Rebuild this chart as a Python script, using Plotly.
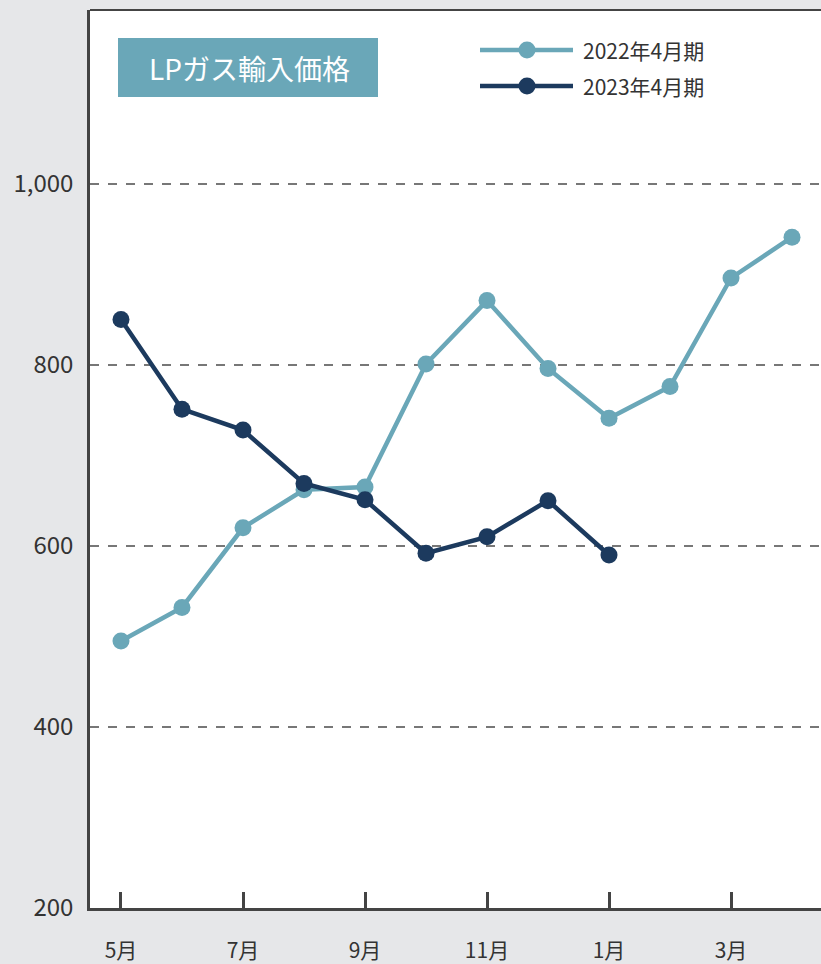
import plotly.graph_objects as go

months = ["5月", "6月", "7月", "8月", "9月", "10月", "11月", "12月", "1月", "2月", "3月", "4月"]
fy2022 = [495, 532, 620, 662, 665, 801, 871, 796, 741, 776, 896, 941]
fy2023 = [850, 751, 728, 669, 651, 592, 610, 650, 590]
series_names = ["2022年4月期", "2023年4月期"]
tick_labels = ["5月", "7月", "9月", "11月", "1月", "3月"]
y_ticks = [200, 400, 600, 800, 1000]

LIGHT = "#6aa7b8"
DARK = "#1c3a5e"
FONT = "Noto Sans CJK JP"

# plot-area geometry in pixels (for paper-coordinate helpers)
L, R, T, B = 90, 821, 10, 908
PW, PH = R - L, B - T


def px(x):
    return (x - L) / PW


def py(y):
    return (B - y) / PH


x_idx = list(range(len(months)))

fig = go.Figure()
fig.add_trace(go.Scatter(x=x_idx, y=fy2022, mode="lines+markers", name=series_names[0],
                         line=dict(color=LIGHT, width=4.5), marker=dict(size=17, color=LIGHT),
                         showlegend=False))
fig.add_trace(go.Scatter(x=x_idx[:len(fy2023)], y=fy2023, mode="lines+markers", name=series_names[1],
                         line=dict(color=DARK, width=4.5), marker=dict(size=17, color=DARK),
                         showlegend=False))

shapes = [
    dict(type="line", xref="paper", yref="paper", x0=0, x1=1, y0=1, y1=1,
         line=dict(color="#444444", width=2)),
    dict(type="rect", xref="paper", yref="paper",
         x0=px(118), x1=px(378), y0=py(97), y1=py(38),
         fillcolor=LIGHT, line=dict(width=0), layer="above"),
]
annotations = [
    dict(text="LPガス輸入価格", xref="paper", yref="paper",
         x=px(249), y=py(68), xanchor="center", yanchor="middle", showarrow=False,
         font=dict(size=28, color="#ffffff", family=FONT)),
]

# manual legend
for name, color, ly in [(series_names[0], LIGHT, 50), (series_names[1], DARK, 86)]:
    shapes.append(dict(type="line", xref="paper", yref="paper",
                       x0=px(480), x1=px(573), y0=py(ly), y1=py(ly),
                       line=dict(color=color, width=4.5), layer="above"))
    shapes.append(dict(type="circle", xref="paper", yref="paper",
                       x0=px(527 - 8.5), x1=px(527 + 8.5), y0=py(ly + 8.5), y1=py(ly - 8.5),
                       fillcolor=color, line=dict(width=0), layer="above"))
    annotations.append(dict(text=name, xref="paper", yref="paper",
                            x=px(581), y=py(ly), xanchor="left", yanchor="middle",
                            showarrow=False, font=dict(size=21, color="#333333", family=FONT)))

fig.update_layout(
    width=821, height=964,
    margin=dict(l=L, r=0, t=T, b=964 - B),
    paper_bgcolor="#e6e7e9", plot_bgcolor="#ffffff",
    font=dict(family=FONT, color="#333333"),
    showlegend=False,
    xaxis=dict(range=[-0.508, 11.475], tickvals=[0, 2, 4, 6, 8, 10], ticktext=tick_labels,
               ticks="inside", ticklen=16, tickwidth=2.5, tickcolor="#444444",
               showline=True, linecolor="#444444", linewidth=2.5, mirror=False,
               showgrid=False, zeroline=False, ticklabelstandoff=22,
               tickfont=dict(size=21, color="#333333")),
    yaxis=dict(range=[200, 1192], tickvals=y_ticks, tickformat=",",
               showline=True, linecolor="#444444", linewidth=2.5,
               showgrid=True, gridcolor="#777777", gridwidth=1.5, griddash="dash",
               zeroline=False, ticks="", ticklabelstandoff=9,
               tickfont=dict(size=24, color="#333333")),
    shapes=shapes,
    annotations=annotations,
)

fig.write_html("out.html", config={"displayModeBar": False},
               post_script="document.body.style.margin='0';document.body.style.overflow='hidden';")
